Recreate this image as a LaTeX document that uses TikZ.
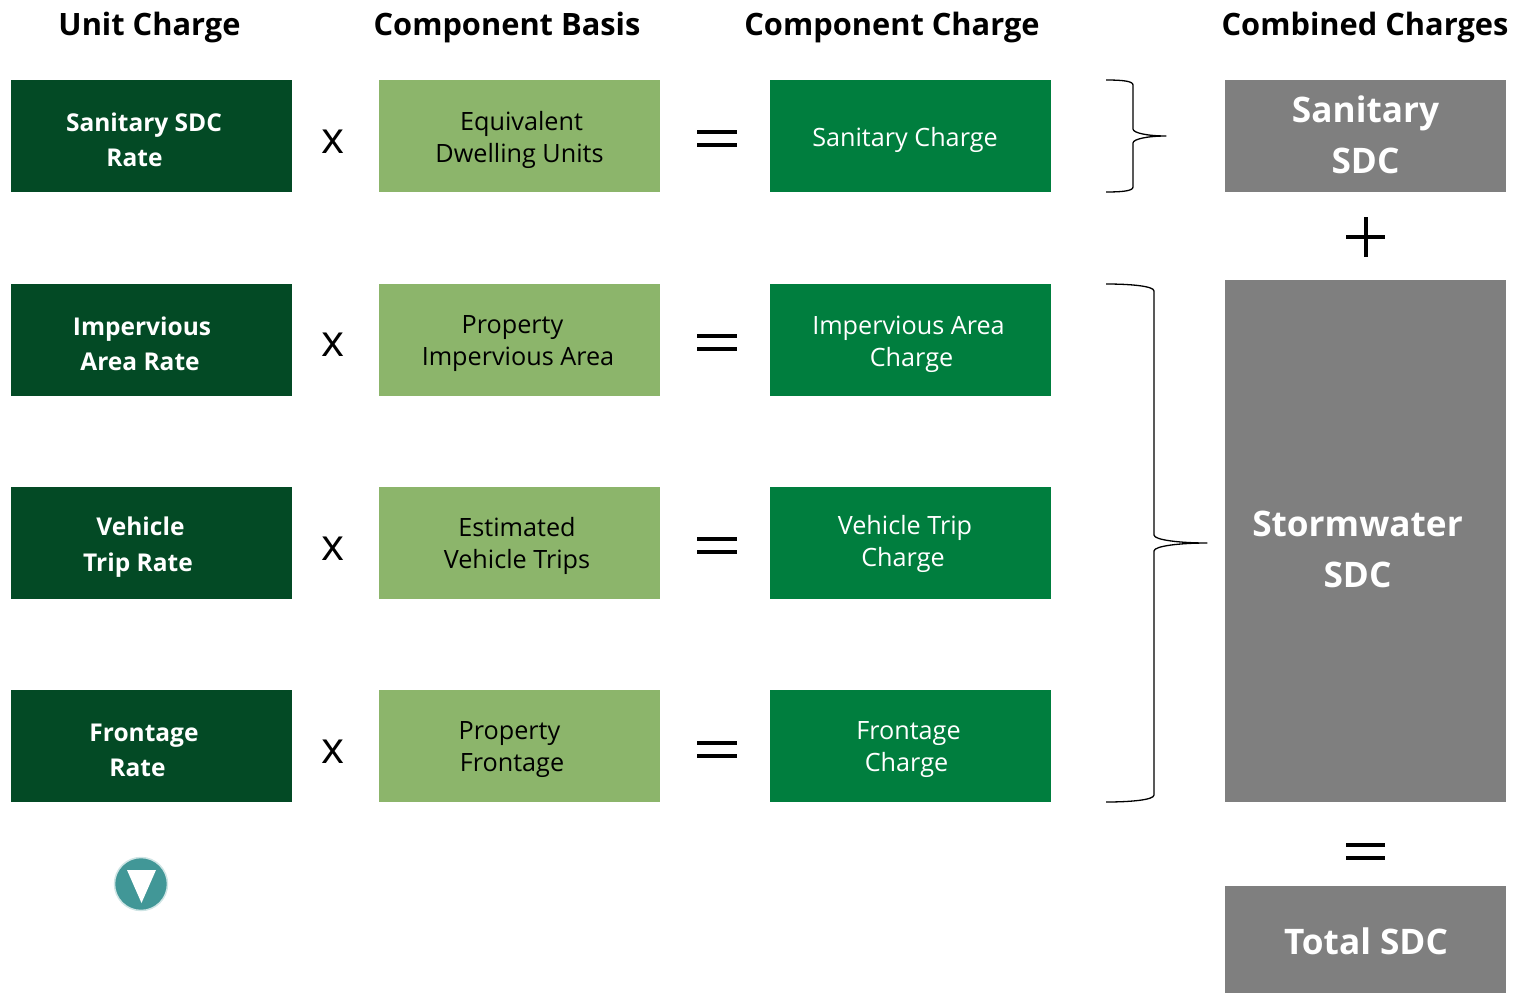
\documentclass[tikz,border=0pt]{standalone}
\usepackage{fontspec}
\setmainfont{Open Sans}
\definecolor{unitgreen}{HTML}{034A25}
\definecolor{basisgreen}{HTML}{8CB56B}
\definecolor{chargegreen}{HTML}{007E3E}
\definecolor{totalgray}{HTML}{7F7F7F}
\definecolor{badgeteal}{HTML}{419797}
\tikzset{
  box/.style={rectangle, minimum width=281pt, inner sep=0pt, outer sep=0pt, minimum height=112pt},
  unitbox/.style={box, fill=unitgreen},
  basisbox/.style={box, fill=basisgreen},
  chargebox/.style={box, fill=chargegreen},
  sumbox/.style={box, fill=totalgray},
  unittext/.style={text=white, align=center, inner sep=0pt, font=\fontsize{24.5}{35.5}\selectfont\bfseries},
  basistext/.style={text=black, align=center, inner sep=0pt, font=\fontsize{25.2}{32}\selectfont},
  chargetext/.style={basistext, text=white},
  sumtext/.style={text=white, align=center, inner sep=0pt, font=\fontsize{35.2}{51}\selectfont\bfseries},
  headtext/.style={text=black, inner sep=0pt, font=\fontsize{30.8}{36}\selectfont\bfseries},
  timestext/.style={text=black, inner sep=0pt, font=\fontsize{44}{44}\selectfont},
  mathbar/.style={fill=black, draw=none},
  curly/.style={draw=black, line width=1.3pt, line join=round}
}
\newcommand{\equalbars}[2]{
  \fill[mathbar] (#1-20,#2-8) rectangle (#1+19.5,#2-4);
  \fill[mathbar] (#1-20,#2+5) rectangle (#1+19.5,#2+9);
}
\begin{document}
\begin{tikzpicture}[x=1pt, y=-1pt]
\useasboundingbox (0,0) rectangle (1517,993);
% headers
\node[headtext] (headunit) at (149.5,27) {Unit Charge};
\node[headtext] (headbasis) at (507,27) {Component Basis};
\node[headtext] (headcharge) at (892,27) {Component Charge};
\node[headtext] (headsum) at (1365,27) {Combined Charges};
% sanitary row
\node[unitbox] (unitA) at (151.5,136) {};
\node[basisbox] (basisA) at (519.5,136) {};
\node[chargebox] (chargeA) at (910.5,136) {};
\node[unittext] (unitAtext) at (144,140) {Sanitary SDC\\Rate\hspace*{19pt}};
\node[basistext] (basisAtext) at (519.5,140) {Equivalent\hspace*{-4pt}\\Dwelling Units};
\node[chargetext] (chargeAtext) at (905,140) {Sanitary Charge};
\node[timestext] (timesA) at (333,142) {x};
\equalbars{717}{138}
% impervious row
\node[unitbox] (unitB) at (151.5,340) {};
\node[basisbox] (basisB) at (519.5,340) {};
\node[chargebox] (chargeB) at (910.5,340) {};
\node[unittext] (unitBtext) at (142,344) {Impervious\\Area Rate\hspace*{4pt}};
\node[basistext] (basisBtext) at (518,344) {Property\hspace*{11pt}\\Impervious Area};
\node[chargetext] (chargeBtext) at (908.5,344) {Impervious Area\\\hspace*{6pt}Charge};
\node[timestext] (timesB) at (333,345) {x};
\equalbars{717}{342}
% vehicle row
\node[unitbox] (unitC) at (151.5,543) {};
\node[basisbox] (basisC) at (519.5,543) {};
\node[chargebox] (chargeC) at (910.5,543) {};
\node[unittext] (unitCtext) at (138,547) {\hspace*{5pt}Vehicle\\Trip Rate};
\node[basistext] (basisCtext) at (517,546) {Estimated\\Vehicle Trips};
\node[chargetext] (chargeCtext) at (905,544) {Vehicle Trip\\Charge\hspace*{4pt}};
\node[timestext] (timesC) at (333,549) {x};
\equalbars{717}{545}
% frontage row
\node[unitbox] (unitD) at (151.5,746) {};
\node[basisbox] (basisD) at (519.5,746) {};
\node[chargebox] (chargeD) at (910.5,746) {};
\node[unittext] (unitDtext) at (141,750.5) {\hspace*{6pt}Frontage\\Rate\hspace*{7pt}};
\node[basistext] (basisDtext) at (512,750) {Property\hspace*{5pt}\\Frontage};
\node[chargetext] (chargeDtext) at (908.5,750) {Frontage\\Charge\hspace*{4pt}};
\node[timestext] (timesD) at (333,752) {x};
\equalbars{717}{749}
% combined column
\node[sumbox] (sumA) at (1365.5,136) {};
\node[sumbox, minimum height=522pt] (sumB) at (1365.5,541) {};
\node[sumbox, minimum height=107pt] (sumC) at (1365.5,939.5) {};
\node[sumtext] (sumAtext) at (1365.5,134.5) {Sanitary\\SDC};
\node[sumtext] (sumBtext) at (1357.5,549.5) {Stormwater\\SDC};
\node[sumtext] (sumCtext) at (1366,941) {Total SDC};
\fill[mathbar] (1346,235) rectangle (1385,239);
\fill[mathbar] (1363.5,217) rectangle (1367.5,257);
\equalbars{1365.5}{851}
% braces
\draw[curly] (1106,80) .. controls (1122,80) and (1133,81) .. (1133,85)
  -- (1133,129) .. controls (1133,133) and (1148,136) .. (1166,136)
  .. controls (1148,136) and (1133,139) .. (1133,143)
  -- (1133,187) .. controls (1133,191) and (1122,192) .. (1106,192);
\draw[curly] (1106,284) .. controls (1130,284) and (1154,286) .. (1154,291)
  -- (1154,535) .. controls (1154,540) and (1180,543) .. (1207,543)
  .. controls (1180,543) and (1154,546) .. (1154,551)
  -- (1154,795) .. controls (1154,800) and (1130,802) .. (1106,802);
% badge
\node[circle, fill=badgeteal, draw=badgeteal!25, line width=1.5pt, minimum size=53pt, inner sep=0pt] (badge) at (141,884) {};
\fill[white] (127,870) -- (156,870) -- (141.5,903) -- cycle;
\end{tikzpicture}
\end{document}
